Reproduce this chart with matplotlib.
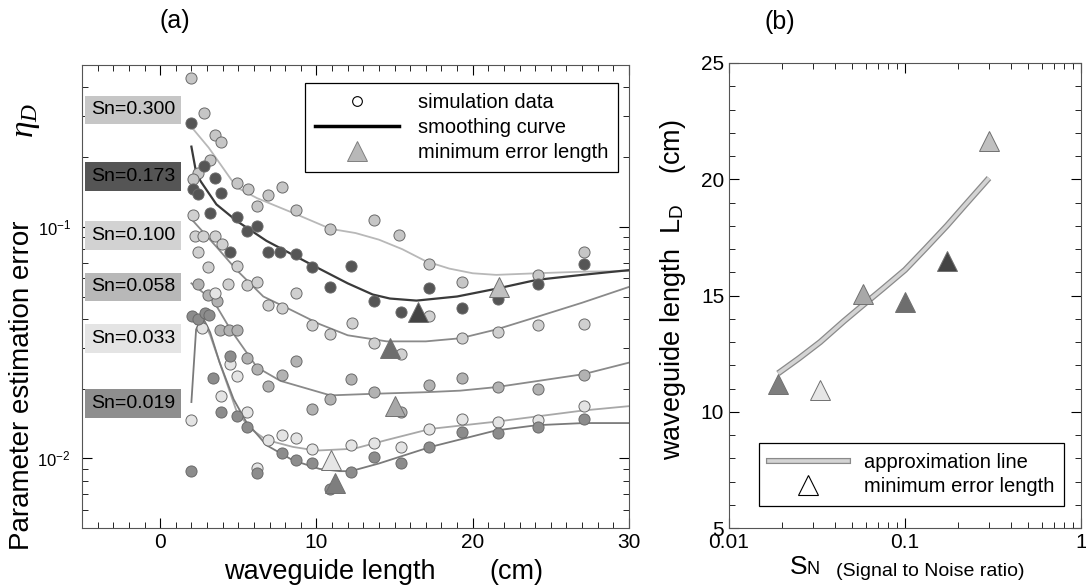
import numpy as np
import matplotlib
matplotlib.use('Agg')
from matplotlib import pyplot as plt
from matplotlib import ticker
from matplotlib.lines import Line2D
import matplotlib.patheffects as pe

plt.rcParams['font.family'] = ['Liberation Sans', 'DejaVu Sans']
plt.rcParams['mathtext.fontset'] = 'custom'
plt.rcParams['mathtext.rm'] = 'Liberation Sans'
plt.rcParams['mathtext.it'] = 'Liberation Serif:italic'

# ---- data: panel (a) ----
sn = [0.300, 0.173, 0.100, 0.058, 0.033, 0.019]
sn_labels = ['Sn=0.300', 'Sn=0.173', 'Sn=0.100', 'Sn=0.058', 'Sn=0.033', 'Sn=0.019']

# simulation data (waveguide length cm, eta_D)
x300 = [2.0, 2.8, 3.5, 3.9, 3.2, 2.4, 2.1, 4.9, 5.6, 6.2, 6.9, 7.8, 8.7, 10.9, 13.7, 15.3, 17.2, 19.3, 24.2, 27.1]
y300 = [0.44, 0.31, 0.25, 0.233, 0.194, 0.171, 0.161, 0.155, 0.145, 0.123, 0.137, 0.148, 0.118, 0.098, 0.107,
        0.092, 0.069, 0.058, 0.062, 0.078]
x173 = [2.0, 2.8, 3.5, 2.1, 2.45, 3.9, 3.2, 4.9, 5.55, 6.2, 4.5, 6.9, 7.7, 8.7, 9.7, 10.9, 12.2, 13.7, 15.4,
        17.2, 19.3, 21.6, 24.2, 27.1]
y173 = [0.28, 0.184, 0.163, 0.145, 0.138, 0.140, 0.115, 0.110, 0.096, 0.101, 0.078, 0.078, 0.078, 0.0765,
        0.067, 0.055, 0.0675, 0.048, 0.0428, 0.0542, 0.0445, 0.049, 0.0569, 0.0688]
x100 = [2.1, 2.24, 2.77, 3.52, 3.95, 2.45, 3.09, 4.9, 4.37, 5.55, 6.19, 6.93, 7.79, 8.68, 9.74, 10.9, 12.3,
        13.7, 15.4, 17.2, 19.3, 21.6, 24.2, 27.1]
y100 = [0.112, 0.0915, 0.0915, 0.0915, 0.0843, 0.0777, 0.0669, 0.068, 0.0569, 0.056, 0.0578, 0.046, 0.0445,
        0.0516, 0.0378, 0.0345, 0.0384, 0.0316, 0.0281, 0.041, 0.0331, 0.035, 0.0378, 0.0381]
x058 = [2.45, 3.09, 3.63, 3.84, 4.4, 4.9, 5.55, 6.19, 6.93, 7.78, 8.68, 9.74, 10.9, 12.2, 13.7, 15.4, 17.2,
        19.3, 21.6, 24.2, 27.1]
y058 = [0.0569, 0.051, 0.048, 0.036, 0.036, 0.036, 0.0272, 0.0242, 0.0206, 0.023, 0.0263, 0.0164, 0.018,
        0.022, 0.0193, 0.0159, 0.0207, 0.0222, 0.0203, 0.0199, 0.0228]
x033 = [2.0, 2.66, 3.52, 3.9, 4.48, 4.9, 5.55, 6.19, 6.93, 7.78, 8.68, 9.74, 12.2, 13.7, 15.4, 17.2, 19.3,
        21.6, 24.2, 27.1]
y033 = [0.0146, 0.0366, 0.0516, 0.0185, 0.0255, 0.0227, 0.0159, 0.0091, 0.0120, 0.0126, 0.0122, 0.011,
        0.0114, 0.0117, 0.0112, 0.0134, 0.0148, 0.0144, 0.0146, 0.0168]
x019 = [1.96, 2.03, 2.45, 2.88, 3.1, 3.4, 3.9, 4.48, 4.9, 5.55, 6.19, 7.78, 8.68, 9.74, 10.9, 12.2, 13.7,
        15.4, 17.2, 19.3, 21.6, 24.2, 27.1]
y019 = [0.0088, 0.041, 0.040, 0.0424, 0.0417, 0.0223, 0.0158, 0.0277, 0.0153, 0.0137, 0.0086, 0.0105,
        0.0098, 0.0095, 0.0074, 0.0087, 0.0101, 0.0095, 0.0112, 0.013, 0.0128, 0.0137, 0.0148]

# smoothing curves
cx300 = [2.0, 3.1, 4.9, 6.2, 8.75, 10.9, 12.5, 14.0, 15.5, 17.0, 18.5, 20.0, 21.5, 24.1, 27.0, 30.0]
cy300 = [0.27, 0.22, 0.148, 0.133, 0.113, 0.098, 0.094, 0.088, 0.080, 0.071, 0.066, 0.063, 0.062, 0.063,
         0.064, 0.0644]
cx173 = [2.0, 2.3, 2.6, 3.6, 4.9, 6.8, 9.8, 12.0, 13.6, 14.7, 16.4, 19.0, 21.5, 24.1, 27.0, 30.0]
cy173 = [0.222, 0.172, 0.157, 0.125, 0.106, 0.087, 0.068, 0.057, 0.051, 0.049, 0.048, 0.050, 0.054, 0.059,
         0.062, 0.065]
cx100 = [2.0, 3.6, 4.9, 6.6, 8.3, 10.2, 12.0, 14.5, 17.0, 19.2, 21.5, 24.2, 27.0, 30.0]
cy100 = [0.108, 0.082, 0.065, 0.050, 0.044, 0.038, 0.034, 0.032, 0.032, 0.033, 0.036, 0.041, 0.047, 0.055]
cx058 = [2.0, 3.4, 4.5, 6.2, 7.7, 10.9, 13.65, 17.0, 19.2, 21.5, 24.0, 27.1, 30.0]
cy058 = [0.057, 0.048, 0.036, 0.0247, 0.0216, 0.0187, 0.019, 0.0193, 0.0196, 0.0203, 0.0215, 0.0231, 0.0259]
cx033 = [2.3, 2.7, 3.2, 3.8, 4.9, 5.8, 6.8, 8.5, 10.0, 12.4, 14.5, 17.3, 21.5, 27.1, 30.0]
cy033 = [0.038, 0.040, 0.034, 0.026, 0.0159, 0.0134, 0.0120, 0.0112, 0.0108, 0.011, 0.0120, 0.0134, 0.0144,
         0.0161, 0.0168]
cx019 = [2.0, 2.3, 2.7, 3.2, 3.8, 4.7, 5.5, 6.8, 8.5, 10.2, 11.5, 12.2, 14.0, 17.3, 21.5, 24.1, 27.1, 30.0]
cy019 = [0.0175, 0.036, 0.041, 0.035, 0.026, 0.018, 0.0144, 0.0114, 0.0098, 0.0090, 0.0088, 0.0088, 0.0095,
         0.0112, 0.0132, 0.0139, 0.0142, 0.0142]

# minimum error length (triangles)
min_len = [21.65, 16.5, 14.7, 15.05, 10.95, 11.2]
min_eta = [0.055, 0.043, 0.030, 0.0169, 0.0098, 0.0078]

# ---- data: panel (b) ----
approx_s = [0.019, 0.025, 0.033, 0.045, 0.058, 0.075, 0.1, 0.13, 0.173, 0.22, 0.3]
approx_L = [11.65, 12.3, 13.0, 13.9, 14.6, 15.3, 16.1, 17.0, 18.0, 18.9, 20.05]

# ---- styles ----
pt_colors = ['#c6c6c6', '#555555', '#d0d0d0', '#b2b2b2', '#e4e4e4', '#8c8c8c']
line_colors = ['#b8b8b8', '#3a3a3a', '#8a8a8a', '#8a8a8a', '#a8a8a8', '#7a7a7a']
tri_colors = ['#c0c0c0', '#444444', '#6e6e6e', '#a8a8a8', '#e6e6e6', '#7e7e7e']
box_colors = ['#c6c6c6', '#555555', '#d2d2d2', '#b8b8b8', '#e4e4e4', '#8e8e8e']
label_y = [0.32, 0.165, 0.092, 0.055, 0.033, 0.0172]

pts = [(x300, y300), (x173, y173), (x100, y100), (x058, y058), (x033, y033), (x019, y019)]
curves = [(cx300, cy300), (cx173, cy173), (cx100, cy100), (cx058, cy058), (cx033, cy033), (cx019, cy019)]

W, H = 1086, 585
fig = plt.figure(figsize=(W / 100, H / 100), dpi=100)

ax = fig.add_axes([82 / W, 1 - 528 / H, (629 - 82) / W, (528 - 65) / H])
for i in range(len(sn)):
    cx, cy = curves[i]
    ax.plot(cx, cy, color=line_colors[i], lw=1.6 if i == 1 else 1.3, zorder=2)
for i in range(len(sn)):
    px, py = pts[i]
    ax.plot(px, py, 'o', ms=8, mfc=pt_colors[i], mec='#6a6a6a', mew=0.7, ls='none', zorder=3)
for i in range(len(sn)):
    ax.plot(min_len[i], min_eta[i], '^', ms=14, mfc=tri_colors[i], mec='#707070', mew=0.7, zorder=4)
    ax.text(-1.73, label_y[i], sn_labels[i], fontsize=14, ha='center', va='center', zorder=5,
            bbox=dict(boxstyle='square,pad=0.3', fc=box_colors[i], ec='none'))

ax.set_yscale('log')
ax.set_xlim(-5, 30)
ax.set_ylim(0.005, 0.5)
ax.xaxis.set_major_locator(ticker.FixedLocator([0, 10, 20, 30]))
ax.xaxis.set_minor_locator(ticker.MultipleLocator(1))
ax.yaxis.set_major_locator(ticker.LogLocator(base=10, numticks=10))
ax.yaxis.set_minor_locator(ticker.LogLocator(base=10, subs=np.arange(2, 10), numticks=10))
ax.yaxis.set_minor_formatter(ticker.NullFormatter())
ax.tick_params(which='both', direction='in', top=True, right=True)
ax.tick_params(axis='x', labelsize=15)
ax.tick_params(axis='y', labelsize=12, pad=8)
ax.tick_params(which='major', length=7, width=0.8)
ax.tick_params(which='minor', length=4, width=0.6)
for s in ax.spines.values():
    s.set_linewidth(0.8)
    s.set_color('#555555')

handles = [Line2D([], [], marker='o', ls='none', ms=7, mfc='white', mec='black', mew=0.8),
           Line2D([], [], color='black', lw=2.5),
           Line2D([], [], marker='^', ls='none', ms=14, mfc='#b8b8b8', mec='#808080', mew=0.7)]
leg = ax.legend(handles, ['simulation data', 'smoothing curve', 'minimum error length'],
                loc='upper right', bbox_to_anchor=(0.98, 0.961), borderaxespad=0, fontsize=14.5,
                frameon=True, fancybox=False, framealpha=1, edgecolor='black', handlelength=4.2,
                handletextpad=0.9, labelspacing=0.3, borderpad=0.5)
leg.get_frame().set_linewidth(0.9)

# ---- panel (b) ----
bx = fig.add_axes([729 / W, 1 - 528 / H, (1081 - 729) / W, (528 - 63) / H])
bx.plot(approx_s, approx_L, color='#d4d4d4', lw=2.6, solid_capstyle='butt',
        path_effects=[pe.Stroke(linewidth=4.4, foreground='#8a8a8a'), pe.Normal()], zorder=2)
for k in range(len(sn)):
    bx.plot(sn[k], min_len[k], '^', ms=14, mfc=tri_colors[k], mec='#707070', mew=0.7, zorder=3)
bx.set_xscale('log')
bx.set_xlim(0.01, 1)
bx.set_ylim(5, 25)
bx.xaxis.set_major_locator(ticker.FixedLocator([0.01, 0.1, 1]))
bx.xaxis.set_major_formatter(ticker.FixedFormatter(['0.01', '0.1', '1']))
bx.xaxis.set_minor_locator(ticker.LogLocator(base=10, subs=np.arange(2, 10), numticks=10))
bx.xaxis.set_minor_formatter(ticker.NullFormatter())
bx.yaxis.set_major_locator(ticker.MultipleLocator(5))
bx.yaxis.set_minor_locator(ticker.MultipleLocator(1))
bx.tick_params(which='both', direction='in', top=True, right=True, labelsize=15)
bx.tick_params(which='major', length=7, width=0.8)
bx.tick_params(which='minor', length=4, width=0.6)
for s in bx.spines.values():
    s.set_linewidth(0.8)
    s.set_color('#555555')

h_line = Line2D([], [], color='#d4d4d4', lw=2.6,
                path_effects=[pe.Stroke(linewidth=4.4, foreground='#8a8a8a'), pe.Normal()])
h_tri = Line2D([], [], marker='^', ls='none', ms=14, mfc='white', mec='black', mew=0.8)
leg2 = bx.legend([h_line, h_tri], ['approximation line', 'minimum error length'], loc='lower right',
                 bbox_to_anchor=(0.952, 0.047), borderaxespad=0, fontsize=14.5, frameon=True, fancybox=False,
                 framealpha=1, edgecolor='black', handlelength=3.9, handletextpad=0.8, labelspacing=0.25,
                 borderpad=0.5)
leg2.get_frame().set_linewidth(0.9)

# ---- labels ----
fig.text(175 / W, 1 - 21 / H, '(a)', fontsize=18, ha='center', va='center')
fig.text(780 / W, 1 - 22 / H, '(b)', fontsize=18, ha='center', va='center')
fig.text(22 / W, 1 - 385 / H, 'Parameter estimation error', fontsize=20,
         rotation=90, ha='center', va='center')
fig.text(26 / W, 1 - 120 / H, r'$\eta_{\mathit{D}}$', fontsize=24, rotation=90, ha='center', va='center')
fig.text(330 / W, 1 - 572 / H, 'waveguide length', fontsize=19.5, ha='center', va='center')
fig.text(516 / W, 1 - 572 / H, '(cm)', fontsize=19.5, ha='center', va='center')
fig.text(673 / W, 1 - 290 / H, r'waveguide length  L$_{\mathrm{D}}$    (cm)', fontsize=19.5,
         rotation=90, ha='center', va='center')
fig.text(790 / W, 1 - 567 / H, 'S', fontsize=19, ha='left', va='center')
fig.text(806 / W, 1 - 570 / H, 'N', fontsize=13, ha='left', va='center')
fig.text(836 / W, 1 - 571 / H, '(Signal to Noise ratio)', fontsize=14, ha='left', va='center')

fig.savefig('out.png', dpi=100)
